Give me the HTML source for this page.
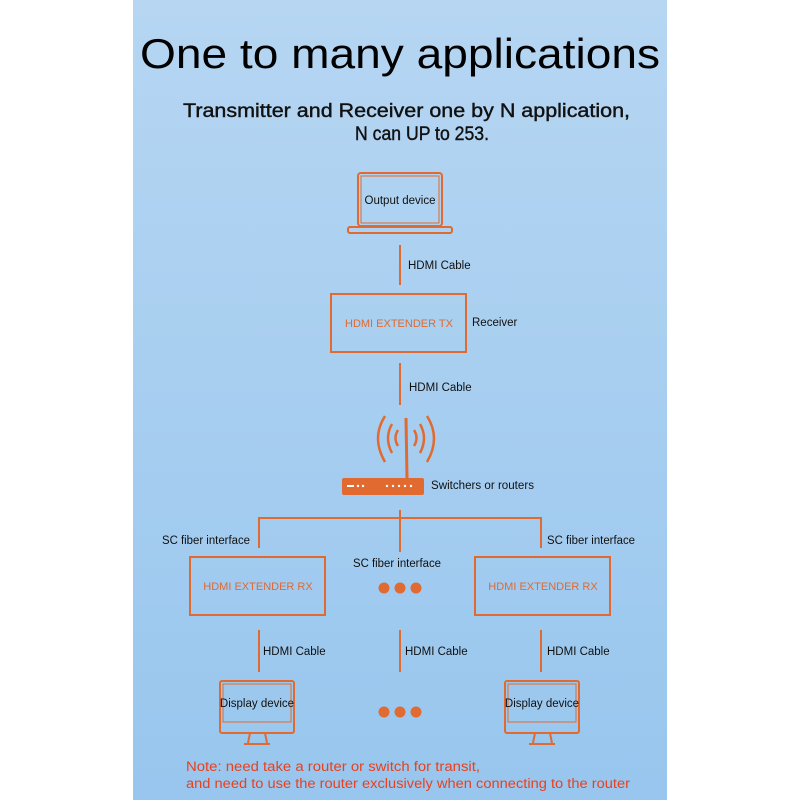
<!DOCTYPE html>
<html><head><meta charset="utf-8"><style>
html,body{margin:0;padding:0;background:#fff;width:800px;height:800px;overflow:hidden}
</style></head><body>
<svg width="800" height="800" xmlns="http://www.w3.org/2000/svg" font-family="Liberation Sans, DejaVu Sans, sans-serif">
<defs><linearGradient id="g" x1="0" y1="0" x2="0" y2="1">
<stop offset="0" stop-color="#b6d6f2"/><stop offset="1" stop-color="#98c6ee"/></linearGradient></defs>
<rect x="133" y="0" width="534" height="800" fill="url(#g)"/>
<text x="140" y="68" font-size="42" textLength="520" lengthAdjust="spacingAndGlyphs" fill="#000">One to many applications</text>
<text x="183" y="117" font-size="19" textLength="447" lengthAdjust="spacingAndGlyphs" fill="#111" stroke="#111" stroke-width="0.4">Transmitter and Receiver one by N application,</text>
<text x="355" y="140" font-size="19" textLength="134" lengthAdjust="spacingAndGlyphs" fill="#111" stroke="#111" stroke-width="0.4">N can UP to 253.</text>
<g stroke="#e06a30" fill="none" stroke-width="2">
<rect x="358" y="173" width="84" height="53" rx="3"/>
<rect x="361" y="176" width="78" height="47" stroke-width="1"/>
<rect x="348" y="227" width="104" height="6" rx="2"/>
<line x1="400" y1="245" x2="400" y2="285"/>
<rect x="331" y="294" width="135" height="58"/>
<line x1="400" y1="363" x2="400" y2="405"/>
<path d="M392 424 Q384 438 392 453 M398 430 Q393 438 398 446 M420 424 Q428 438 420 453 M414 430 Q419 438 414 446 M385 416 Q371 438 385 462 M427 416 Q441 438 427 462" stroke-width="2.5"/>
<line x1="406" y1="418" x2="407" y2="478" stroke-width="3"/>
<line x1="259" y1="518" x2="541" y2="518"/>
<line x1="400" y1="510" x2="400" y2="552"/>
<line x1="259" y1="517" x2="259" y2="548"/>
<line x1="541" y1="517" x2="541" y2="548"/>
<rect x="190" y="557" width="135" height="58"/>
<rect x="475" y="557" width="135" height="58"/>
<line x1="259" y1="630" x2="259" y2="672"/>
<line x1="400" y1="630" x2="400" y2="672"/>
<line x1="541" y1="630" x2="541" y2="672"/>
<rect x="220" y="681" width="74" height="52" rx="2"/>
<rect x="223" y="684" width="68" height="38" stroke-width="1"/>
<path d="M250 733 L248 743 M265 733 L267 743 M244 744 L270 744"/>
<rect x="505" y="681" width="74" height="52" rx="2"/>
<rect x="508" y="684" width="68" height="38" stroke-width="1"/>
<path d="M535 733 L533 743 M550 733 L552 743 M529 744 L555 744"/>
</g>
<rect x="342" y="478" width="82" height="17" rx="2" fill="#e06a30"/>
<g fill="#fff"><rect x="347" y="485" width="7" height="2"/><circle cx="358" cy="486" r="1.2"/><circle cx="363" cy="486" r="1.2"/><circle cx="387" cy="486" r="1.2"/><circle cx="393" cy="486" r="1.2"/><circle cx="399" cy="486" r="1.2"/><circle cx="405" cy="486" r="1.2"/><circle cx="411" cy="486" r="1.2"/></g>
<g fill="#e06a30"><circle cx="384" cy="588" r="5.5"/><circle cx="400" cy="588" r="5.5"/><circle cx="416" cy="588" r="5.5"/><circle cx="384" cy="712" r="5.5"/><circle cx="400" cy="712" r="5.5"/><circle cx="416" cy="712" r="5.5"/></g>
<g font-size="11.5" fill="#111">
<text x="400" y="204" text-anchor="middle">Output device</text>
<text x="408" y="269">HDMI Cable</text>
<text x="472" y="326">Receiver</text>
<text x="409" y="391">HDMI Cable</text>
<text x="431" y="489" textLength="103" lengthAdjust="spacingAndGlyphs">Switchers or routers</text>
<text x="162" y="544" textLength="88" lengthAdjust="spacingAndGlyphs">SC fiber interface</text>
<text x="353" y="567" textLength="88" lengthAdjust="spacingAndGlyphs">SC fiber interface</text>
<text x="547" y="544" textLength="88" lengthAdjust="spacingAndGlyphs">SC fiber interface</text>
<text x="263" y="655">HDMI Cable</text>
<text x="405" y="655">HDMI Cable</text>
<text x="547" y="655">HDMI Cable</text>
<text x="257" y="707" text-anchor="middle">Display device</text>
<text x="542" y="707" text-anchor="middle">Display device</text>
</g>
<g font-size="11" fill="#e06a30">
<text x="399" y="327" text-anchor="middle">HDMI EXTENDER TX</text>
<text x="258" y="590" text-anchor="middle">HDMI EXTENDER RX</text>
<text x="543" y="590" text-anchor="middle">HDMI EXTENDER RX</text>
</g>
<g font-size="13.5" fill="#e8401e">
<text x="186" y="771" textLength="294" lengthAdjust="spacingAndGlyphs">Note:  need take a router or switch for transit,</text>
<text x="186" y="788" textLength="444" lengthAdjust="spacingAndGlyphs">and need to use the router exclusively when connecting to the router</text>
</g>
</svg>
</body></html>
